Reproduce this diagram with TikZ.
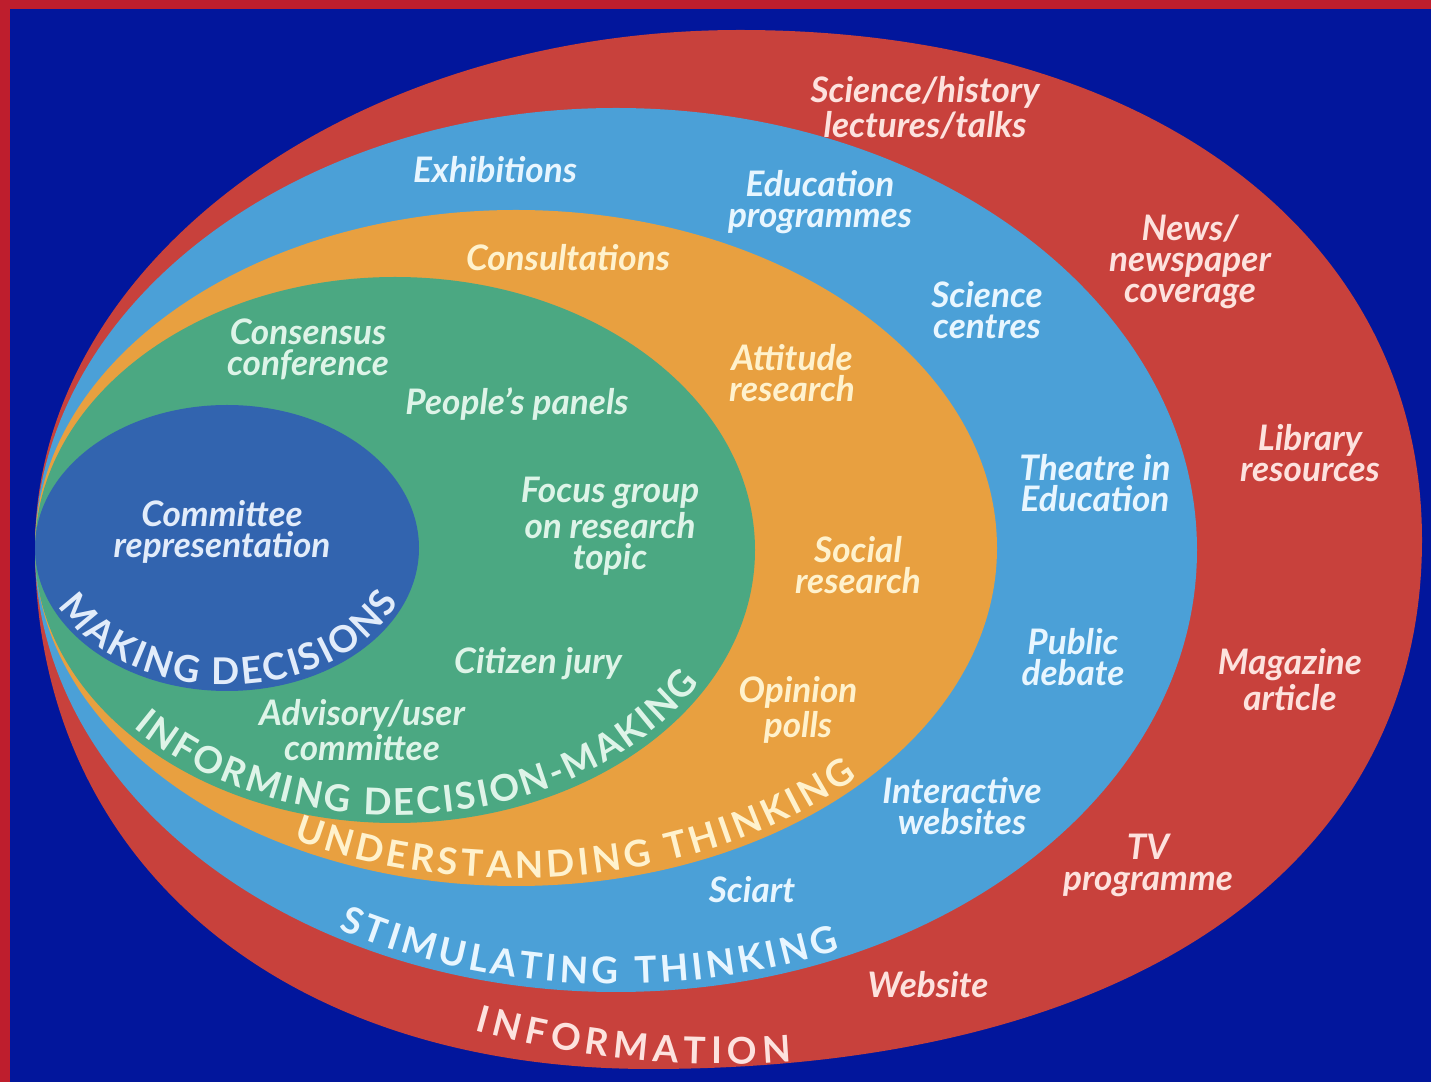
\documentclass[tikz,border=0pt]{standalone}
\usepackage{fontspec}
\setmainfont{Lato}
\usetikzlibrary{decorations.text}
\definecolor{framered}{RGB}{190,30,45}
\definecolor{navy}{RGB}{2,22,156}
\definecolor{infored}{RGB}{200,65,60}
\definecolor{stimblue}{RGB}{75,160,215}
\definecolor{underorange}{RGB}{232,160,64}
\definecolor{informgreen}{RGB}{75,168,130}
\definecolor{decideblue}{RGB}{50,100,175}
\definecolor{redtext}{RGB}{253,226,222}
\definecolor{bluetext}{RGB}{232,246,255}
\definecolor{orangetext}{RGB}{255,242,205}
\definecolor{greentext}{RGB}{222,244,232}
\definecolor{navytext}{RGB}{226,236,250}

\begin{document}
\begin{tikzpicture}[
  item/.style={align=center, font=\fontsize{10}{8.8}\selectfont\bfseries\itshape, inner sep=1pt},
  ring/.style 2 args={decorate, decoration={text along path, text align=fit to path,
      text color=#1, text={|\fontsize{10.5}{11}\selectfont\bfseries|#2}}},
]

% ============ background ============
\fill[framered] (0,0) rectangle (14.31,10.82);
\fill[navy] (0.10,0) rectangle (14.31,10.73);

% ============ rings ============
\coordinate (cdec) at (2.27,5.34);
\coordinate (cinf) at (3.95,5.32);
\coordinate (cund) at (5.16,5.34);
\coordinate (cstim) at (6.16,5.32);
\coordinate (cinfo) at (7.20,5.30);

\fill[infored] (0.35,5.34) .. controls (0.35,8.20) and (3.51,10.52) .. (7.40,10.52)
  .. controls (11.49,10.52) and (14.22,8.48) .. (14.22,5.42)
  .. controls (14.22,2.14) and (11.29,0.13) .. (6.50,0.13)
  .. controls (2.81,0.13) and (0.35,2.21) .. cycle;
\fill[stimblue] (cstim) ellipse[x radius=5.81, y radius=4.42];
\fill[underorange] (cund) ellipse[x radius=4.81, y radius=3.38];
\fill[informgreen] (cinf) ellipse[x radius=3.60, y radius=2.73];
\fill[decideblue] (cdec) ellipse[x radius=1.92, y radius=1.43];

% ============ ring titles ============
\path[shift={(cdec)}, ring={navytext}{MAKING DECISIONS}]
  (205:1.86 and 1.37) arc[start angle=205, end angle=337, x radius=1.86, y radius=1.37];
\path[shift={(cinf)}, ring={greentext}{INFORMING DECISION-MAKING}]
  (222:3.52 and 2.65) arc[start angle=222, end angle=330, x radius=3.52, y radius=2.65];
\path[shift={(cund)}, ring={orangetext}{UNDERSTANDING THINKING}]
  (242:4.74 and 3.30) arc[start angle=242, end angle=316, x radius=4.74, y radius=3.30];
\path[shift={(cstim)}, ring={bluetext}{STIMULATING THINKING}]
  (241:5.73 and 4.34) arc[start angle=241, end angle=293, x radius=5.73, y radius=4.34];
\path[shift={(cinfo)}, ring={redtext}{INFORMATION}]
  (249:6.85 and 5.12) arc[start angle=249, end angle=276, x radius=6.85, y radius=5.12];

% ============ INFORMATION ============
\node[item, text=redtext] (lect) at (9.25,9.74) {Science/history\\lectures/talks};
\node[item, text=redtext] (news) at (11.90,8.20) {News/\\newspaper\\coverage};
\node[item, text=redtext] (libr) at (13.10,6.29) {Library\\resources};
\node[item, text=redtext] (mag)  at (12.90,4.02) {Magazine\\article};
\node[item, text=redtext] (tv)   at (11.48,2.17) {TV\\programme};
\node[item, text=redtext] (web)  at (9.28,0.97)  {Website};

% ============ STIMULATING THINKING ============
\node[item, text=bluetext] (exh)   at (4.95,9.12)  {Exhibitions};
\node[item, text=bluetext] (edu)   at (8.20,8.80)  {Education\\programmes};
\node[item, text=bluetext] (scic)  at (9.87,7.72)  {Science\\centres};
\node[item, text=bluetext] (thea)  at (10.95,5.99) {Theatre in\\Education};
\node[item, text=bluetext] (pub)   at (10.73,4.25) {Public\\debate};
\node[item, text=bluetext] (inter) at (9.62,2.76)  {Interactive\\websites};
\node[item, text=bluetext] (sci)   at (7.52,1.92)  {Sciart};

% ============ UNDERSTANDING THINKING ============
\node[item, text=orangetext] (cons) at (5.68,8.24) {Consultations};
\node[item, text=orangetext] (att)  at (7.92,7.09) {Attitude\\research};
\node[item, text=orangetext] (soc)  at (8.58,5.17) {Social\\research};
\node[item, text=orangetext] (opin) at (7.98,3.72) {Opinion\\polls};

% ============ INFORMING DECISION-MAKING ============
\node[item, text=greentext] (conf)  at (3.08,7.33) {Consensus\\conference};
\node[item, text=greentext] (panel) at (5.17,6.78) {People's panels};
\node[item, text=greentext] (focus) at (6.10,5.56) {Focus group\\on research\\topic};
\node[item, text=greentext] (jury)  at (5.38,4.18) {Citizen jury};
\node[item, text=greentext] (adv)   at (3.62,3.52) {Advisory/user\\committee};

% ============ MAKING DECISIONS ============
\node[item, text=navytext] (comm) at (2.22,5.50) {Committee\\representation};
\end{tikzpicture}
\end{document}
